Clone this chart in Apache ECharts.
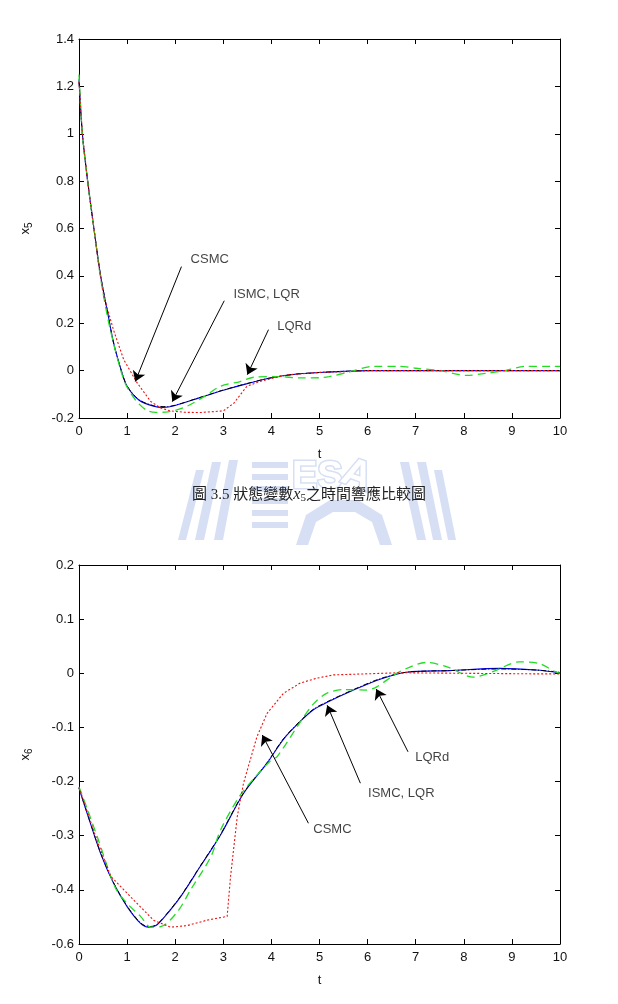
<!DOCTYPE html>
<html><head><meta charset="utf-8">
<script src="https://cdn.jsdelivr.net/npm/echarts/dist/echarts.min.js"></script>
<style>html,body{margin:0;padding:0;background:#fff}#c{width:618px;height:1004px}</style>
</head><body><div id="c"></div><script>
// ---------- Top chart (x5) ----------
var t5_ISMC = [0, 0.07, 0.18, 0.31, 0.45, 0.6, 0.72, 0.88, 1.0, 1.25, 1.55, 1.75, 2.0, 2.5, 3.0, 3.5, 4.0, 4.5, 5.0, 5.5, 6.0, 7, 8, 9, 10];
var v5_ISMC = [1.23, 1.0, 0.8, 0.6, 0.40, 0.24, 0.117, 0.0, -0.066, -0.125, -0.15, -0.155, -0.147, -0.115, -0.083, -0.055, -0.03, -0.015, -0.008, -0.003, 0, 0, 0, 0, 0];
var t5_LQR = [0, 0.07, 0.18, 0.31, 0.45, 0.6, 0.72, 0.88, 1.0, 1.25, 1.55, 1.8, 2.0, 2.5, 3.0, 3.5, 4.0, 4.5, 5.0, 5.5, 6.0, 7, 8, 9, 10];
var v5_LQR = [1.22, 1.0, 0.8, 0.6, 0.40, 0.24, 0.115, 0.0, -0.065, -0.123, -0.148, -0.152, -0.146, -0.114, -0.082, -0.054, -0.03, -0.015, -0.008, -0.003, 0, 0, 0, 0, 0];
var t5_LQRd = [0, 0.07, 0.18, 0.31, 0.45, 0.6, 0.75, 0.9, 1.0, 1.2, 1.41, 1.6, 1.8, 2.0, 2.25, 2.6, 2.94, 3.35, 3.63, 4.1, 4.6, 5.0, 5.2, 5.6, 6.12, 6.67, 7.0, 7.5, 8.06, 8.45, 8.86, 9.28, 9.83, 10];
var v5_LQRd = [1.25, 1.0, 0.8, 0.6, 0.39, 0.22, 0.09, -0.02, -0.07, -0.13, -0.168, -0.176, -0.175, -0.168, -0.15, -0.11, -0.066, -0.046, -0.028, -0.025, -0.031, -0.03, -0.025, -0.007, 0.018, 0.018, 0.01, 0.0, -0.02, -0.012, 0.0, 0.018, 0.018, 0.018];
var t5_CSMC = [0, 0.07, 0.18, 0.31, 0.4, 0.52, 0.72, 0.93, 1.21, 1.49, 1.7, 1.9, 2.2, 2.52, 3.0, 3.22, 3.49, 3.77, 4.32, 5.0, 5.6, 6.0, 7, 8, 9, 10];
var v5_CSMC = [1.22, 1.0, 0.8, 0.6, 0.46, 0.31, 0.17, 0.046, -0.052, -0.13, -0.158, -0.17, -0.176, -0.177, -0.17, -0.137, -0.066, -0.045, -0.018, -0.0075, -0.004, 0, 0, 0, 0, 0];
var yTicks5 = ['-0.2', '0', '0.2', '0.4', '0.6', '0.8', '1', '1.2', '1.4'];
var notes5 = ['CSMC', 'ISMC, LQR', 'LQRd'];
var notes5At = [[2.32, 0.47], [3.21, 0.32], [4.12, 0.186]];
var arrows5From = [[2.13, 0.439], [3.02, 0.295], [3.94, 0.173]];
var arrows5To = [[1.17, -0.046], [1.94, -0.131], [3.5, -0.017]];

// ---------- Bottom chart (x6) ----------
var t6_ISMC = [0, 0.17, 0.45, 0.72, 1.0, 1.28, 1.45, 1.6, 1.76, 2.11, 2.52, 2.94, 3.42, 3.91, 4.25, 4.6, 4.88, 5.15, 5.71, 6.26, 6.81, 7.7, 8.75, 9.5, 10];
var v6_ISMC = [-0.212, -0.259, -0.333, -0.388, -0.431, -0.462, -0.469, -0.466, -0.452, -0.413, -0.357, -0.299, -0.222, -0.166, -0.122, -0.089, -0.067, -0.054, -0.031, -0.011, 0.002, 0.005, 0.009, 0.006, 0.001];
var t6_LQR = [0, 0.17, 0.45, 0.72, 1.0, 1.28, 1.45, 1.6, 1.76, 2.11, 2.52, 2.94, 3.42, 3.91, 4.25, 4.6, 4.88, 5.15, 5.71, 6.26, 6.81, 7.7, 8.75, 9.5, 10];
var v6_LQR = [-0.212, -0.258, -0.332, -0.387, -0.430, -0.461, -0.468, -0.465, -0.451, -0.412, -0.356, -0.298, -0.221, -0.165, -0.121, -0.088, -0.066, -0.053, -0.030, -0.010, 0.002, 0.005, 0.008, 0.006, 0.002];
var t6_LQRd = [0, 0.17, 0.38, 0.76, 1.0, 1.28, 1.49, 1.7, 2.05, 2.32, 2.74, 2.94, 3.33, 3.67, 4.0, 4.12, 4.6, 4.88, 5.15, 5.5, 5.98, 6.19, 6.67, 7.23, 7.65, 8.2, 8.6, 9.15, 9.57, 9.9, 10];
var v6_LQRd = [-0.21, -0.25, -0.302, -0.397, -0.425, -0.449, -0.469, -0.468, -0.44, -0.40, -0.339, -0.29, -0.228, -0.191, -0.16, -0.154, -0.09, -0.056, -0.037, -0.03, -0.031, -0.025, 0.003, 0.02, 0.012, -0.007, 0.003, 0.021, 0.018, 0.003, 0.0];
var t6_CSMC = [0, 0.17, 0.38, 0.66, 1.14, 1.55, 1.9, 2.25, 2.66, 3.08, 3.15, 3.29, 3.42, 3.56, 3.7, 3.91, 4.25, 4.6, 4.95, 5.29, 6.67, 8, 9.4, 10];
var v6_CSMC = [-0.21, -0.255, -0.31, -0.375, -0.419, -0.456, -0.469, -0.466, -0.456, -0.449, -0.376, -0.265, -0.203, -0.160, -0.117, -0.074, -0.037, -0.018, -0.009, -0.003, 0.001, 0.0, -0.001, -0.001];
var yTicks6 = ['-0.6', '-0.4', '-0.3', '-0.2', '-0.1', '0', '0.1', '0.2'];
var notes6 = ['CSMC', 'ISMC, LQR', 'LQRd'];
var notes6At = [[4.87, -0.289], [6.01, -0.221], [6.99, -0.155]];
var arrows6From = [[4.77, -0.277], [5.85, -0.203], [6.84, -0.145]];
var arrows6To = [[3.81, -0.114], [5.16, -0.059], [6.18, -0.029]];

var xTicks = ['0', '1', '2', '3', '4', '5', '6', '7', '8', '9', '10'];

function pairs(t, v) { return t.map(function (x, i) { return [x, v[i]]; }); }

var FONT = '"Liberation Sans", Arial, sans-serif';
var grids = [
  { left: 79, top: 39, width: 481, height: 379 },
  { left: 79, top: 565, width: 481, height: 379 }
];
var yCfg = [
  { min: -0.2, max: 1.4, interval: 0.2, labels: yTicks5, sub: '5' },
  { min: -0.5, max: 0.2, interval: 0.1, labels: yTicks6, sub: '6' }
];

var xAxes = [], yAxes = [], series = [];
grids.forEach(function (g, gi) {
  var common = {
    gridIndex: gi, type: 'value', min: 0, max: 10, interval: 1,
    axisLine: { show: true, onZero: false, lineStyle: { color: '#000', width: 1 } },
    axisTick: { show: true, inside: true, length: 5, lineStyle: { color: '#000' } },
    splitLine: { show: false }
  };
  xAxes.push(Object.assign({}, common, {
    position: 'bottom',
    axisLabel: { show: true, margin: 7, color: '#111', fontSize: 13, fontFamily: FONT,
      formatter: function (v) { return xTicks[Math.round(v)]; } },
    name: 't', nameLocation: 'middle', nameGap: 30,
    nameTextStyle: { color: '#111', fontSize: 13, fontFamily: FONT }
  }));
  xAxes.push(Object.assign({}, common, { position: 'top', axisLabel: { show: false } }));
  var yc = yCfg[gi];
  var ycommon = {
    gridIndex: gi, type: 'value', min: yc.min, max: yc.max, interval: yc.interval,
    axisLine: { show: true, onZero: false, lineStyle: { color: '#000', width: 1 } },
    axisTick: { show: true, inside: true, length: 5, lineStyle: { color: '#000' } },
    splitLine: { show: false }
  };
  yAxes.push(Object.assign({}, ycommon, {
    position: 'left',
    axisLabel: { show: true, margin: 5, color: '#111', fontSize: 13, fontFamily: FONT,
      formatter: (function (lab, mn, iv) { return function (v) { return lab[Math.round((v - mn) / iv)]; }; })(yc.labels, yc.min, yc.interval) },
    name: '{a|x}{b|' + yc.sub + '}', nameLocation: 'middle', nameGap: 45, nameRotate: 90,
    nameTextStyle: { color: '#111', fontFamily: FONT,
      rich: { a: { fontSize: 13, color: '#111', fontFamily: FONT, lineHeight: 18, verticalAlign: 'middle' },
              b: { fontSize: 10, color: '#111', fontFamily: FONT, lineHeight: 18, verticalAlign: 'bottom', padding: [5, 0, 0, 0] } } }
  }));
  yAxes.push(Object.assign({}, ycommon, { position: 'right', axisLabel: { show: false } }));
});

function line(name, gi, data, color, type, width, smooth) {
  return {
    name: name, type: 'line', xAxisIndex: gi * 2, yAxisIndex: gi * 2,
    data: data, showSymbol: false, symbol: 'none', smooth: smooth, silent: true,
    lineStyle: { color: color, type: type, width: width }, z: 3
  };
}
var sets = [
  { ISMC: pairs(t5_ISMC, v5_ISMC), LQR: pairs(t5_LQR, v5_LQR), LQRd: pairs(t5_LQRd, v5_LQRd), CSMC: pairs(t5_CSMC, v5_CSMC),
    notes: notes5, at: notes5At, from: arrows5From, to: arrows5To },
  { ISMC: pairs(t6_ISMC, v6_ISMC), LQR: pairs(t6_LQR, v6_LQR), LQRd: pairs(t6_LQRd, v6_LQRd), CSMC: pairs(t6_CSMC, v6_CSMC),
    notes: notes6, at: notes6At, from: arrows6From, to: arrows6To }
];
sets.forEach(function (s, gi) {
  series.push(line('ISMC', gi, s.ISMC, '#0000ff', 'solid', 1.1, 0.3));
  series.push(line('LQR', gi, s.LQR, '#000000', [5, 2, 1, 2], 1, 0.3));
  series.push(line('LQRd', gi, s.LQRd, '#22dd22', [8, 5], 1.3, 0.3));
  series.push(line('CSMC', gi, s.CSMC, '#ee1111', [2, 2], 1.1, false));
  // annotation texts
  series.push({
    type: 'scatter', xAxisIndex: gi * 2, yAxisIndex: gi * 2, symbolSize: 0, silent: true, z: 5,
    data: s.at.map(function (p, i) { return [p[0], p[1], s.notes[i]]; }),
    label: { show: true, position: 'right', distance: 0, color: '#111', fontSize: 13, fontFamily: FONT,
      formatter: function (p) { return p.data[2]; } }
  });
  // annotation arrows
  series.push({
    type: 'line', xAxisIndex: gi * 2, yAxisIndex: gi * 2, data: [], silent: true,
    markLine: {
      silent: true, symbol: ['none', 'arrow'], symbolSize: 10, animation: false,
      label: { show: false }, lineStyle: { color: '#000', type: 'solid', width: 1 },
      data: s.from.map(function (f, i) { return [{ coord: f }, { coord: s.to[i] }]; })
    }
  });
});

// faint watermark (decorative) and caption
var wm = '#d6dff4';
var graphic = [
  { type: 'group', silent: true, z: -1, children: [
    { type: 'polygon', shape: { points: [[196, 470], [204, 470], [186, 540], [178, 540]] }, style: { fill: wm } },
    { type: 'polygon', shape: { points: [[212, 462], [221, 462], [204, 540], [195, 540]] }, style: { fill: wm } },
    { type: 'polygon', shape: { points: [[229, 460], [238, 460], [223, 540], [214, 540]] }, style: { fill: wm } },
    { type: 'rect', shape: { x: 252, y: 462, width: 36, height: 6 }, style: { fill: wm } },
    { type: 'rect', shape: { x: 252, y: 474, width: 36, height: 6 }, style: { fill: wm } },
    { type: 'rect', shape: { x: 252, y: 486, width: 36, height: 6 }, style: { fill: wm } },
    { type: 'rect', shape: { x: 252, y: 498, width: 36, height: 6 }, style: { fill: wm } },
    { type: 'rect', shape: { x: 252, y: 510, width: 36, height: 6 }, style: { fill: wm } },
    { type: 'rect', shape: { x: 252, y: 522, width: 36, height: 6 }, style: { fill: wm } },
    { type: 'text', x: 292, y: 459, style: { text: 'ES', fill: '#fff', stroke: wm, lineWidth: 3, fontSize: 38, fontWeight: 'bold', fontFamily: FONT } },
    { type: 'text', x: 350, y: 452, rotation: -0.35, style: { text: 'A', fill: '#fff', stroke: wm, lineWidth: 3, fontSize: 40, fontWeight: 'bold', fontFamily: FONT } },
    { type: 'polygon', shape: { points: [[400, 462], [409, 462], [426, 540], [417, 540]] }, style: { fill: wm } },
    { type: 'polygon', shape: { points: [[417, 462], [426, 462], [442, 540], [433, 540]] }, style: { fill: wm } },
    { type: 'polygon', shape: { points: [[434, 470], [442, 470], [456, 540], [448, 540]] }, style: { fill: wm } },
    { type: 'polygon', shape: { points: [[296, 545], [306, 515], [330, 500], [358, 500], [382, 515], [392, 545], [380, 545], [372, 522], [355, 512], [333, 512], [316, 522], [308, 545]] }, style: { fill: wm } }
  ] },
  { type: 'text', left: 'center', top: 487, z: 10, silent: true,
    style: { text: '圖 3.5 狀態變數{x|x}{s|5}之時間響應比較圖', fill: '#222', fontSize: 15,
      fontFamily: '"Liberation Serif", "Noto Sans CJK TC", serif',
      rich: { x: { fontSize: 16, fontStyle: 'italic', fontFamily: '"Liberation Serif", serif', fill: '#222' },
              s: { fontSize: 11, fontFamily: '"Liberation Serif", serif', verticalAlign: 'bottom', padding: [6, 0, 0, 0], fill: '#222' } } } }
];

var chart = echarts.init(document.getElementById('c'), null, { renderer: 'canvas' });
chart.setOption({
  animation: false,
  backgroundColor: '#ffffff',
  grid: grids,
  xAxis: xAxes,
  yAxis: yAxes,
  series: series,
  graphic: graphic
});
</script></body></html>
